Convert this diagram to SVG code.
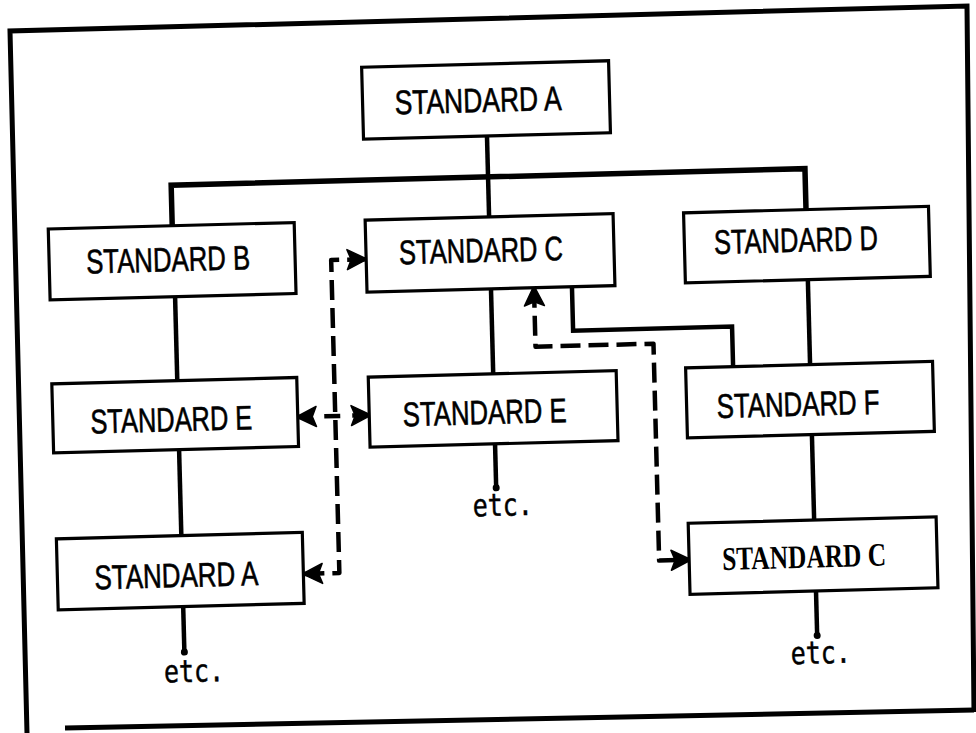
<svg xmlns="http://www.w3.org/2000/svg" width="976" height="733" viewBox="0 0 976 733">
<style>
.box{fill:#fff;stroke:#000;stroke-width:3.2}
.lbl{font-family:"Liberation Sans",Arial,sans-serif;font-size:34px;fill:#000;stroke:#000;stroke-width:0.6;text-anchor:middle}
.lbl2{font-family:"Liberation Serif","Times New Roman",serif;font-weight:bold;font-size:33px;fill:#000;text-anchor:middle}
.etc{font-family:"DejaVu Sans Mono","Liberation Mono",monospace;font-size:31px;fill:#000;stroke:#000;stroke-width:0.5;text-anchor:middle}
.solid{fill:none;stroke:#000;stroke-width:4.5;stroke-linejoin:miter}
.bar{fill:none;stroke:#000;stroke-width:5.5}
.dash{fill:none;stroke:#000;stroke-width:4.5;stroke-dasharray:20 8;stroke-linejoin:round;marker-start:url(#arr);marker-end:url(#arr)}
.frame{fill:none;stroke:#000;stroke-width:5}
</style>
<defs>
<marker id="arr" markerUnits="userSpaceOnUse" markerWidth="26" markerHeight="26" viewBox="-23 -13 26 26" refX="0" refY="0" orient="auto-start-reverse">
<path d="M2,0 L-18,-10 L-14,0 L-18,10 Z" fill="#000" stroke="#000" stroke-width="1.5" stroke-linejoin="round"/>
</marker>
</defs>
<rect width="976" height="733" fill="#fff"/>
<g id="frame">
<path class="frame" d="M27,733 L10,31 L967,6 L974,712"/>
<path class="frame" d="M65,728 L974,710"/>
</g>
<g transform="rotate(-1.5 488 366)">
<g id="connectors">
<path class="solid" d="M493,136 V217"/>
<path class="bar" d="M176,218 V177 H810 V218"/>
<path class="solid" d="M177,288 V373"/>
<path class="solid" d="M177,441 V528"/>
<path class="solid" d="M177,598 V644"/>
<circle cx="177" cy="644" r="3.5"/>
<path class="solid" d="M493,289 V374"/>
<path class="solid" d="M493,444 V488"/>
<circle cx="493" cy="488" r="3.5"/>
<path class="solid" d="M810,288 V373"/>
<path class="solid" d="M810,443 V529"/>
<path class="solid" d="M810,599 V644"/>
<circle cx="810" cy="644" r="3.5"/>
<path class="solid" d="M574,289 V333 H733 V373"/>
<path class="dash" d="M299,569 H334 V256 H368"/>
<path class="dash" style="stroke-dasharray:14 12 16 12 14" d="M297,412 H368"/>
<path class="dash" d="M536,289 V348 H654 V565 H684"/>
</g>
<g id="n-a-top"><rect class="box" x="369.5" y="64" width="247" height="72"/><text class="lbl" x="485" y="112" textLength="167" lengthAdjust="spacingAndGlyphs">STANDARD A</text></g>
<g id="n-b"><rect class="box" x="52" y="217.5" width="246" height="71"/><text class="lbl" x="171" y="263" textLength="164" lengthAdjust="spacingAndGlyphs">STANDARD B</text></g>
<g id="n-c"><rect class="box" x="369" y="217" width="248" height="72"/><text class="lbl" x="484" y="262" textLength="164" lengthAdjust="spacingAndGlyphs">STANDARD C</text></g>
<g id="n-d"><rect class="box" x="687.5" y="218" width="245" height="70"/><text class="lbl" x="799" y="260" textLength="164" lengthAdjust="spacingAndGlyphs">STANDARD D</text></g>
<g id="n-e-left"><rect class="box" x="51.5" y="372.5" width="245" height="69"/><text class="lbl" x="170" y="423" textLength="162" lengthAdjust="spacingAndGlyphs">STANDARD E</text></g>
<g id="n-e-mid"><rect class="box" x="368" y="374" width="248" height="70"/><text class="lbl" x="483.5" y="424" textLength="164" lengthAdjust="spacingAndGlyphs">STANDARD E</text></g>
<g id="n-f"><rect class="box" x="685.5" y="373" width="247" height="70"/><text class="lbl" x="797" y="424" textLength="163" lengthAdjust="spacingAndGlyphs">STANDARD F</text></g>
<g id="n-a-low"><rect class="box" x="52" y="527.5" width="246" height="71"/><text class="lbl" x="171" y="579" textLength="164" lengthAdjust="spacingAndGlyphs">STANDARD A</text></g>
<g id="n-c-right"><rect class="box" x="684" y="528.5" width="248" height="71"/><text class="lbl2" x="799" y="576" textLength="164" lengthAdjust="spacingAndGlyphs">STANDARD C</text></g>
<g id="etc-labels">
<text class="etc" x="186" y="674" textLength="60" lengthAdjust="spacingAndGlyphs">etc.</text>
<text class="etc" x="499" y="516" textLength="60" lengthAdjust="spacingAndGlyphs">etc.</text>
<text class="etc" x="813" y="672" textLength="60" lengthAdjust="spacingAndGlyphs">etc.</text>
</g>
</g>
</svg>
